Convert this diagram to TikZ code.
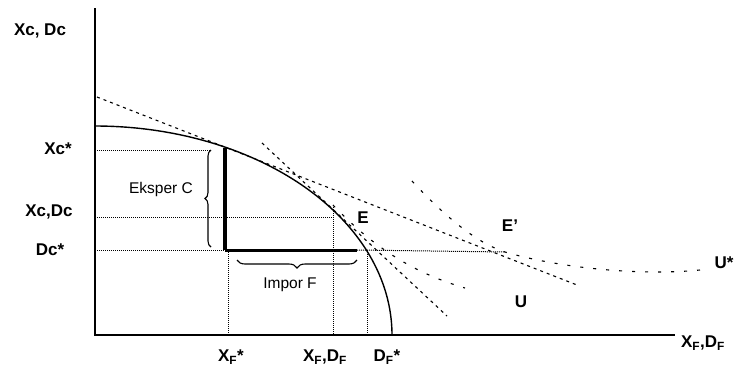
\documentclass[tikz,border=0pt]{standalone}
\usepackage{fontspec}
\setmainfont{Liberation Sans}
\usepackage{tikz}
\usetikzlibrary{decorations.pathreplacing,calc}
\tikzset{
  axlab/.style  ={font=\bfseries\fontsize{17}{17}\selectfont,inner sep=0pt},
  trlab/.style  ={font=\fontsize{15.5}{15.5}\selectfont,inner sep=0pt},
  axisline/.style={line width=1.3pt},
  ppf/.style    ={line width=1.4pt},
  guide/.style  ={densely dotted,line width=1pt},
  price/.style  ={dash pattern=on 3pt off 4pt,line width=1.1pt},
  indiff/.style ={dash pattern=on 3pt off 10pt,line width=1.1pt},
  tradebar/.style={line width=4pt},
  tradeline/.style={line width=3pt},
  brc/.style    ={decorate,line width=1.1pt},
}

\begin{document}
\begin{tikzpicture}[x=1pt,y=-1pt]
  \useasboundingbox (0,0) rectangle (736,376);
  \coordinate (O) at (95,335);
  \coordinate (ytop) at (95,8);
  \coordinate (xend) at (675,335);
  % production, autarky and consumption points
  \coordinate (P) at (225,148);
  \coordinate (Pfoot) at (225,250);
  \coordinate (Q) at (357,250);
  \coordinate (A) at (333,205);
  \coordinate (C) at (505,252);
  \coordinate (Dpt) at (367,250);
  % axes
  \draw[axisline] (ytop) -- (O) -- (xend);
  % production possibility frontier
  \draw[ppf] plot[domain=0:90,samples=90] ({95+297*sin(\x)},{335-209*cos(\x)});
  % price lines
  \coordinate (w1) at (97,97);
  \coordinate (w2) at (577,285);
  \draw[price] (w1) -- (w2);
  \coordinate (a1) at (262,143);
  \coordinate (a2) at (447,316);
  \draw[price] (a1) -- (a2);
  % indifference curves
  \draw[indiff] (412,181) .. controls (450,222) and (480,244) .. (C)
                .. controls (560,268) and (640,276) .. (700,270);
  \draw[indiff] (A) .. controls (370,244) and (410,272) .. (465,288);
  % guide lines
  \draw[guide] (95,150) -- (211,150);
  \draw[guide] (95,217) -- (A |- 0,217);
  \draw[guide] (A) -- (A |- O);
  \draw[guide] (95,250) -- (Pfoot);
  \draw[guide] (228,252) -- (228,335);
  \draw[guide] (Dpt) -- (Dpt |- O);
  \draw[guide] (Q) -- (C);
  % trade triangle
  \draw[tradebar] (P) -- (Pfoot);
  \draw[tradeline] (Pfoot) -- (Q);
  \draw[brc,decoration={brace,amplitude=6pt}] (211,247) -- (211,150);
  \draw[brc,decoration={brace,amplitude=8pt}] (357,260) -- (237,260);
  % labels
  \node[axlab] (lyaxis) at (40,31) {Xc, Dc};
  \node[axlab] (lxcs) at (58,149) {Xc*};
  \node[axlab] (lxcdc) at (49,212) {Xc,Dc};
  \node[axlab] (ldcs) at (50,250) {Dc*};
  \node[axlab] (lxfs) at (231,357) {X\textsubscript{F}*};
  \node[axlab] (lxfdf) at (325,357) {X\textsubscript{F},D\textsubscript{F}};
  \node[axlab] (ldfs) at (387,357) {D\textsubscript{F}*};
  \node[axlab] (lxaxis) at (703,343) {X\textsubscript{F},D\textsubscript{F}};
  \node[axlab] (lE) at (363,218) {E};
  \node[axlab] (lEp) at (510,226) {E'};
  \node[axlab] (lU) at (521,302) {U};
  \node[axlab] (lUs) at (724,263) {U*};
  \node[trlab] (lexp) at (161,189) {Eksper C};
  \node[trlab] (limp) at (290,285) {Impor F};
\end{tikzpicture}
\end{document}
